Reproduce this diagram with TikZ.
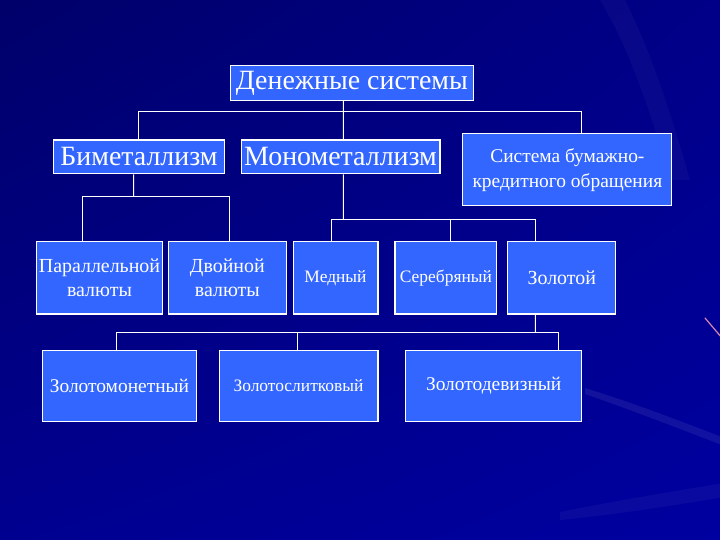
\documentclass[tikz,border=0pt]{standalone}
\usepackage{fontspec}
\setmainfont{Liberation Serif}
\usetikzlibrary{shadings}
\begin{document}
\begin{tikzpicture}[x=1bp,y=-1bp,
  box/.style={draw=white,fill=boxblue,line width=1.1bp,inner sep=0pt,text=white,align=center,anchor=north west},
  link/.style={draw=white,line width=1bp},
  streak/.style={line cap=round}]
\definecolor{boxblue}{HTML}{3366FF}
\definecolor{bgdark}{HTML}{00006A}
\definecolor{bgmid}{HTML}{0000A0}
\useasboundingbox (0,0) rectangle (720,540);
% background
\shade[upper left=bgdark,upper right=bgmid!85!black,lower left=bgmid!90!black,lower right=bgmid] (0,0) rectangle (720,540);
\begin{scope}
\clip (0,0) rectangle (720,540);
\fill[white,opacity=0.03] (600,0) .. controls (630,50) and (650,110) .. (670,180) -- (690,180) .. controls (670,110) and (650,50) .. (625,0) -- cycle;
\fill[white,opacity=0.07] (585,388) .. controls (640,405) and (690,425) .. (730,440) -- (730,448) .. controls (690,433) and (640,413) .. (585,394) -- cycle;
\fill[white,opacity=0.04] (560,512) .. controls (620,500) and (670,492) .. (730,482) -- (730,496) .. controls (670,506) and (620,514) .. (560,520) -- cycle;
\draw[streak,color=pink!70!violet,line width=1.2bp] (705,318) -- (722,338);
\end{scope}
% nodes
\node[box,minimum width=243.4bp,minimum height=34.5bp,font=\fontsize{28}{30}\selectfont] (root) at (229.6,65.4) {Денежные системы};
\node[box,minimum width=170.3bp,minimum height=33.7bp,font=\fontsize{28}{30}\selectfont] (bi) at (53.3,139.5) {Биметаллизм};
\node[box,minimum width=198.8bp,minimum height=33.7bp,font=\fontsize{28}{30}\selectfont] (mono) at (240.6,139.5) {Монометаллизм};
\node[box,minimum width=209bp,minimum height=71.9bp,font=\fontsize{19.5}{25}\selectfont] (paper) at (462.3,133.3) {Система бумажно-\\кредитного обращения};
\node[box,minimum width=125.3bp,minimum height=72.4bp,font=\fontsize{20}{24}\selectfont] (par) at (36.3,241) {Параллельной\\валюты};
\node[box,minimum width=118.4bp,minimum height=72.4bp,font=\fontsize{20}{24}\selectfont] (dbl) at (167.6,241) {Двойной\\валюты};
\node[box,minimum width=84.9bp,minimum height=72.4bp,font=\fontsize{17.5}{20}\selectfont] (cu) at (292.5,241) {Медный};
\node[box,minimum width=101.9bp,minimum height=72.4bp,font=\fontsize{17.5}{20}\selectfont] (ag) at (394.4,241) {Серебряный};
\node[box,minimum width=107.9bp,minimum height=72.4bp,font=\fontsize{20}{24}\selectfont] (au) at (507.3,241) {Золотой};
\node[box,minimum width=153.4bp,minimum height=71.3bp,font=\fontsize{19.5}{24}\selectfont] (coin) at (42.2,349.5) {Золотомонетный};
\node[box,minimum width=158.9bp,minimum height=71.3bp,font=\fontsize{17.5}{20}\selectfont] (bar) at (218.5,349.5) {Золотослитковый};
\node[box,minimum width=176.3bp,minimum height=71.3bp,font=\fontsize{19.5}{24}\selectfont] (dev) at (405,349.5) {\strut Золотодевизный};
% connectors
\coordinate (j1) at (343.4,111.2);
\draw[link] ([xshift=113.8bp]root.south west) -- (j1);
\draw[link] (j1) -| ([xshift=119bp]paper.north west);
\draw[link] (j1) -| ([xshift=85.4bp]bi.north west);
\draw[link] (j1) -- ([xshift=102.8bp]mono.north west);
\coordinate (j2) at (133.6,196.3);
\draw[link] ([xshift=80.3bp]bi.south west) -- (j2);
\draw[link] (j2) -| ([xshift=46.3bp]par.north west);
\draw[link] (j2) -| ([xshift=62bp]dbl.north west);
\coordinate (j3) at (343.4,219.4);
\draw[link] ([xshift=102.8bp]mono.south west) -- (j3);
\draw[link] (j3) -| ([xshift=39bp]cu.north west);
\draw[link] (j3) -| ([xshift=56bp]ag.north west);
\draw[link] (j3) -| ([xshift=28bp]au.north west);
\coordinate (j4) at (535.3,332.3);
\draw[link] ([xshift=28bp]au.south west) -- (j4);
\draw[link] (j4) -| ([xshift=74.4bp]coin.north west);
\draw[link] (j4) -| ([xshift=79bp]bar.north west);
\draw[link] (j4) -| ([xshift=153.3bp]dev.north west);
\end{tikzpicture}
\end{document}
